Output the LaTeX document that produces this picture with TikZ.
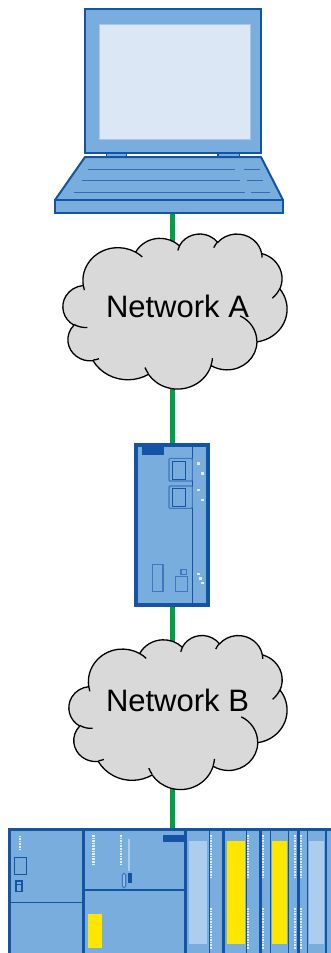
\documentclass[tikz,border=0pt]{standalone}
\usepackage{fontspec}
\setmainfont{Liberation Sans}

\definecolor{bodyblue}{RGB}{120,173,222}
\definecolor{darkblue}{RGB}{20,84,164}
\definecolor{keyblue}{RGB}{50,108,180}
\definecolor{portblue}{RGB}{64,118,190}
\definecolor{screenfill}{RGB}{220,231,245}
\definecolor{screenedge}{RGB}{165,198,232}
\definecolor{lightbar}{RGB}{172,205,238}
\definecolor{ledwhite}{RGB}{228,237,249}
\definecolor{sigyellow}{RGB}{255,230,0}
\definecolor{linkgreen}{RGB}{0,158,72}
\definecolor{cloudgray}{RGB}{217,217,217}

% Parametric start/end angles of an elliptic arc given by visual angles
% #1 name, #2 x radius, #3 y radius, #4 start angle, #5 sweep
\makeatletter
\newcommand\cloudangles[5]{%
  \pgfmathsetmacro\cl@s{atan2((#2)*sin(#4),(#3)*cos(#4))}%
  \pgfmathsetmacro\cl@e{atan2((#2)*sin((#4)+(#5)),(#3)*cos((#4)+(#5)))}%
  \pgfmathsetmacro\cl@e{(\cl@s)+mod((\cl@e)-(\cl@s)+720,360)}%
  \expandafter\xdef\csname cls#1\endcsname{\cl@s}%
  \expandafter\xdef\csname cle#1\endcsname{\cl@e}%
}
\makeatother
% outline arcs
\cloudangles{a}{15.632}{21.273}{-190.4875}{123.7805}
\cloudangles{b}{12.345}{16.822}{-144.1024}{89.9452}
\cloudangles{c}{10.104}{13.762}{-145.8079}{99.7230}
\cloudangles{d}{11.243}{15.266}{-130.9861}{117.2417}
\cloudangles{e}{12.345}{16.836}{-78.7089}{109.0269}
\cloudangles{f}{15.683}{21.343}{-46.2673}{130.2690}
\cloudangles{g}{13.391}{18.211}{0.6250}{114.0333}
\cloudangles{h}{15.630}{21.331}{22.4516}{115.1726}
\cloudangles{i}{17.870}{24.405}{66.2426}{75.7110}
\cloudangles{j}{10.093}{13.699}{-274.9421}{146.7356}
\cloudangles{k}{10.058}{13.762}{-246.8285}{152.5189}
% inner fold arcs
\cloudangles{ia}{10.058}{13.762}{86.7420}{26.4295}
\cloudangles{ib}{10.093}{13.699}{73.6105}{11.4475}
\cloudangles{ic}{15.630}{21.331}{137.6242}{14.0811}
\cloudangles{id}{15.630}{21.331}{6.4533}{15.9984}
\cloudangles{ie}{13.391}{18.211}{-70.2924}{70.9174}
\cloudangles{if}{12.345}{16.836}{30.3180}{27.7515}
\cloudangles{ig}{11.243}{15.266}{-13.7443}{14.8589}
\cloudangles{ih}{11.243}{15.266}{-149.1815}{18.1954}
\cloudangles{ii}{10.104}{13.762}{-163.4943}{17.6864}
\cloudangles{ij}{15.632}{21.273}{-66.7070}{12.3194}
\cloudangles{ik}{15.632}{21.273}{157.6544}{11.8582}

% cloud drawn into the box (#1,#2) of size #3 x #4
\newcommand\netcloud[4]{%
  \begin{scope}[shift={(#1,#2)},xscale=#3/100,yscale=#4/100]
    \draw[cloudbody] (9.028,33.264)
      arc[x radius=15.632,y radius=21.273,start angle=\clsa,end angle=\clea]
      arc[x radius=12.345,y radius=16.822,start angle=\clsb,end angle=\cleb]
      arc[x radius=10.104,y radius=13.762,start angle=\clsc,end angle=\clec]
      arc[x radius=11.243,y radius=15.266,start angle=\clsd,end angle=\cled]
      arc[x radius=12.345,y radius=16.836,start angle=\clse,end angle=\clee]
      arc[x radius=15.683,y radius=21.343,start angle=\clsf,end angle=\clef]
      arc[x radius=13.391,y radius=18.211,start angle=\clsg,end angle=\cleg]
      arc[x radius=15.630,y radius=21.331,start angle=\clsh,end angle=\cleh]
      arc[x radius=17.870,y radius=24.405,start angle=\clsi,end angle=\clei]
      arc[x radius=10.093,y radius=13.699,start angle=\clsj,end angle=\clej]
      arc[x radius=10.058,y radius=13.762,start angle=\clsk,end angle=\clek]
      -- cycle;
    \draw[cloudedge]
      (10.863,60.595) arc[x radius=10.058,y radius=13.762,start angle=\clsia,end angle=\cleia]
      (16.037,80.785) arc[x radius=10.093,y radius=13.699,start angle=\clsib,end angle=\cleib]
      (38.144,90.486) arc[x radius=15.630,y radius=21.331,start angle=\clsic,end angle=\cleic]
      (66.729,80.442) arc[x radius=15.630,y radius=21.331,start angle=\clsid,end angle=\cleid]
      (79.002,53.134) arc[x radius=13.391,y radius=18.211,start angle=\clsie,end angle=\cleie]
      (96.755,35.542) arc[x radius=12.345,y radius=16.836,start angle=\clsif,end angle=\cleif]
      (88.713,12.560) arc[x radius=11.243,y radius=15.266,start angle=\clsig,end angle=\cleig]
      (67.310,9.148)  arc[x radius=11.243,y radius=15.266,start angle=\clsih,end angle=\cleih]
      (51.252,10.926) arc[x radius=10.104,y radius=13.762,start angle=\clsii,end angle=\cleii]
      (32.407,12.019) arc[x radius=15.632,y radius=21.273,start angle=\clsij,end angle=\cleij]
      (9.553,36.549)  arc[x radius=15.632,y radius=21.273,start angle=\clsik,end angle=\cleik];
  \end{scope}}

\begin{document}
\begin{tikzpicture}[x=1pt,y=-1pt,
  link/.style={draw=linkgreen,line width=5},
  cloudbody/.style={draw=black,fill=cloudgray,line width=1.3,line join=round},
  cloudedge/.style={draw=black,line width=1.3},
  casing/.style={draw=darkblue,fill=bodyblue},
  keyline/.style={draw=keyblue,line width=0.9},
  portline/.style={draw=portblue,line width=1.1},
  thinsep/.style={draw=darkblue,line width=1.1},
  leds/.style={draw=ledwhite,line width=2.2,dash pattern=on 1.6pt off 1pt},
  netlabel/.style={font=\fontsize{31}{37}\selectfont,inner sep=0,anchor=base,text=black}]
\useasboundingbox (0,0) rectangle (331,953);

% connection points
\coordinate (pc) at (172.5,205);
\coordinate (netA) at (172.5,311);
\coordinate (gateway) at (172.5,525);
\coordinate (netB) at (172.5,712);
\coordinate (plc) at (172.5,880);

% Ethernet links
\draw[link] (pc) -- (netA);
\draw[link] (netA) -- (gateway);
\draw[link] (gateway) -- (netB);
\draw[link] (netB) -- (plc);

% ---------- laptop ----------
\draw[casing,line width=2.2] (85,9) rectangle (260.7,153);
\draw[draw=screenedge,fill=screenfill,line width=1] (99.5,24) rectangle (250,139.5);
\draw[casing,line width=1.5] (106.5,153) rectangle (126.5,157.5);
\draw[casing,line width=1.5] (218,153) rectangle (239.5,157.5);
\draw[casing,line width=2,line join=round] (85,157) -- (261,157) -- (283,200) -- (55,200) -- cycle;
\draw[casing,line width=2] (55,200) rectangle (283,212.5);
\draw[keyline] (87.7,169) -- (235,169) (244,169) -- (260,169);
\draw[keyline] (81.7,180.3) -- (240,180.3) (246.7,180.3) -- (263,180.3);
\draw[keyline] (74,192.3) -- (245,192.3) (250.7,192.3) -- (270,192.3);

% ---------- network clouds ----------
\netcloud{63}{233.5}{224}{155}
\netcloud{69}{635}{218}{154}
\node[netlabel] (labelA) at (177.5,317.3) {Network A};
\node[netlabel] (labelB) at (177.5,711.7) {Network B};

% ---------- gateway module ----------
\draw[casing,line width=4] (136,444.5) rectangle (208,605);
\draw[thinsep] (192.3,446.5) -- (192.3,603);
\fill[darkblue] (142,447.3) rectangle (164.3,455);
\draw[portline,rounded corners=1] (169,458.3) rectangle (192.3,481);
\draw[draw=darkblue,line width=1.3] (172.3,461.7) rectangle (185.7,479.3);
\draw[portline,rounded corners=1] (169,486) rectangle (192.3,508.3);
\draw[draw=darkblue,line width=1.3] (172.3,488.8) rectangle (185.7,506.7);
\foreach \x/\y in {198.3/463.3,202.3/473.3,198.3/490,202.3/500,198.3/573.7,200.3/578.4,202.3/583}
  \fill[ledwhite] (\x-1.2,\y-1.2) rectangle (\x+1.2,\y+1.2);
\draw[portline] (152.3,564.7) rectangle (163,591.3);
\draw[portline] (181,569.3) rectangle (186.3,574.7);
\draw[portline] (175.7,576.7) rectangle (187.7,591.3);

% ---------- controller rack ----------
\fill[bodyblue] (8,828) rectangle (331,953);
\fill[lightbar] (189.3,840.7) rectangle (206.7,944.3);
\fill[lightbar] (309.3,840.7) rectangle (324.3,944.3);
\fill[sigyellow] (226.7,840.7) rectangle (245,944.3);
\fill[sigyellow] (272.3,840.7) rectangle (287,944.3);
\fill[sigyellow] (87.7,914.3) rectangle (101.7,948.3);
\foreach \x in {209.3,246.7,270.5,288.7,307.3,326}
  \draw[thinsep] (\x,831) -- (\x,953);
\foreach \a/\b in {8/11,82.3/84.7,184/187.3,221.7/225,259/261.7,297/299.7}
  \fill[darkblue] (\a,828) rectangle (\b,953);
\fill[darkblue] (8,828) rectangle (331,831.3);
\draw[thinsep] (11,902.3) -- (82.3,902.3);
\draw[thinsep] (84.7,890) -- (184,890);
% status LEDs
\foreach \x/\a/\b in {20.2/835.5/851,93.5/835/864.5,121.2/835/864.5}
  \draw[leds] (\x,\a) -- (\x,\b);
\foreach \x in {211.3,248.3,263.3,295.2,301.2}
  {\draw[leds] (\x,835) -- (\x,877);
   \draw[leds] (\x,908) -- (\x,948.5);}
% power supply details
\draw[draw=darkblue,line width=1.2] (14.3,857.3) rectangle (26.7,874.3);
\draw[draw=darkblue,line width=1.2] (16,881) rectangle (22,891.7);
\draw[draw=darkblue,line width=1] (16,884) -- (22,884);
% CPU details
\fill[lightbar] (127.6,839) rectangle (129.6,870.7);
\draw[portline,fill=lightbar!50!bodyblue,rounded corners=1.5] (122.3,873.3) rectangle (125.7,887.7);
\fill[darkblue] (128.4,873.3) rectangle (131.6,883.3);
\fill[darkblue] (163.3,835) rectangle (184,841.7);
\end{tikzpicture}
\end{document}
